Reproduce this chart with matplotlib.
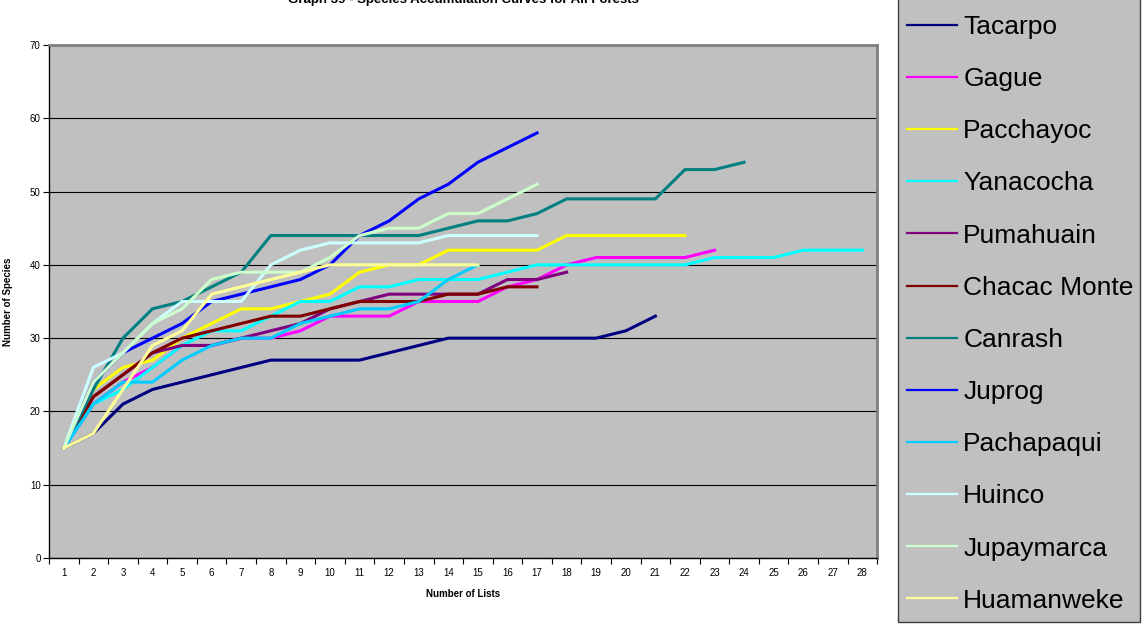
import matplotlib
matplotlib.use("Agg")
import matplotlib.pyplot as plt  # noqa: E402
from matplotlib.patches import Rectangle  # noqa: E402
import numpy as np  # noqa: E402

plt.rcParams["font.family"] = ["Liberation Sans", "DejaVu Sans"]

# species accumulation per forest, value per number of lists (1..n)
tacarpo = [15, 17, 21, 23, 24, 25, 26, 27, 27, 27, 27, 28, 29, 30, 30, 30, 30, 30, 30, 31, 33]
gague = [15, 21, 24, 26, 29, 29, 30, 30, 31, 33, 33, 33, 35, 35, 35, 37, 38, 40, 41, 41, 41, 41, 42]
pacchayoc = [15, 23, 26, 27, 30, 32, 34, 34, 35, 36, 39, 40, 40, 42, 42, 42, 42, 44, 44, 44, 44, 44]
yanacocha = [15, 21, 23, 26, 29, 31, 31, 33, 35, 35, 37, 37, 38, 38, 38, 39, 40, 40, 40, 40, 40, 40,
             41, 41, 41, 42, 42, 42]
pumahuain = [15, 22, 25, 28, 29, 29, 30, 31, 32, 34, 35, 36, 36, 36, 36, 38, 38, 39]
chacac_monte = [15, 22, 25, 28, 30, 31, 32, 33, 33, 34, 35, 35, 35, 36, 36, 37, 37]
canrash = [15, 23, 30, 34, 35, 37, 39, 44, 44, 44, 44, 44, 44, 45, 46, 46, 47, 49, 49, 49, 49, 53, 53, 54]
juprog = [15, 24, 28, 30, 32, 35, 36, 37, 38, 40, 44, 46, 49, 51, 54, 56, 58]
pachapaqui = [15, 21, 24, 24, 27, 29, 30, 30, 32, 33, 34, 34, 35, 38, 40]
huinco = [15, 26, 28, 32, 35, 35, 35, 40, 42, 43, 43, 43, 43, 44, 44, 44, 44]
jupaymarca = [15, 24, 28, 32, 34, 38, 39, 39, 39, 41, 44, 45, 45, 47, 47, 49, 51]
huamanweke = [15, 17, 23, 29, 31, 36, 37, 38, 39, 40, 40, 40, 40, 40, 40]

series = [
    ("Tacarpo", tacarpo, "#000080"),
    ("Gague", gague, "#FF00FF"),
    ("Pacchayoc", pacchayoc, "#FFFF00"),
    ("Yanacocha", yanacocha, "#00FFFF"),
    ("Pumahuain", pumahuain, "#800080"),
    ("Chacac Monte", chacac_monte, "#800000"),
    ("Canrash", canrash, "#008080"),
    ("Juprog", juprog, "#0000FF"),
    ("Pachapaqui", pachapaqui, "#00CCFF"),
    ("Huinco", huinco, "#CCFFFF"),
    ("Jupaymarca", jupaymarca, "#CCFFCC"),
    ("Huamanweke", huamanweke, "#FFFF99"),
]
n_lists = 28

W, H = 1144, 625
fig = plt.figure(figsize=(W / 100, H / 100), dpi=100)
ax = fig.add_axes([0.0428, 0.1072, 0.724, 0.8208])
ax.set_facecolor("#C0C0C0")

for name, vals, col in series:
    x = np.arange(1, len(vals) + 1)
    ax.plot(x, vals, color=col, lw=2.2, label=name, solid_joinstyle="miter")

ax.set_xlim(0.5, n_lists + 0.5)
ax.set_ylim(0, 70)
ax.set_yticks(np.arange(0, 71, 10))
ax.set_xticks(np.arange(1, n_lists + 1))
ax.set_xticks(np.arange(0.5, n_lists + 1), minor=True)
ax.tick_params(axis="x", which="major", length=0, labelsize=7, pad=7)
ax.tick_params(axis="x", which="minor", length=4, width=0.8, direction="out")
ax.tick_params(axis="y", length=4, width=0.8, labelsize=7, pad=2)
ax.yaxis.grid(True, color="black", lw=0.8)
ax.set_axisbelow(True)

for s in ["top", "right"]:
    ax.spines[s].set_color("#808080")
    ax.spines[s].set_linewidth(2)
for s in ["left", "bottom"]:
    ax.spines[s].set_color("black")
    ax.spines[s].set_linewidth(1)

ax.set_xlabel("Number of Lists", fontsize=7, fontweight="bold", labelpad=8)
ax.set_ylabel("Number of Species", fontsize=7, fontweight="bold", labelpad=12)
fig.text(0.405, 1.0, "Graph 39 - Species Accumulation Curves for All Forests",
         fontsize=9.5, fontweight="bold", ha="center", va="center")

# legend box runs off the top of the image, as in the original
fig.patches.append(Rectangle((898 / W, 3 / H), 242 / W, 630 / H,
                             transform=fig.transFigure, facecolor="#C0C0C0",
                             edgecolor="#404040", lw=1, zorder=1))
leg = fig.legend(loc="upper left", bbox_to_anchor=(898 / W, 1 - 6 / H),
                 fontsize=19, labelspacing=1.067, handlelength=1.9,
                 handletextpad=0.23, borderpad=0.34, borderaxespad=0,
                 frameon=False)
leg.set_zorder(2)
for ln in leg.get_lines():
    ln.set_linewidth(1.6)

fig.savefig("out.png", dpi=100)
plt.close(fig)
